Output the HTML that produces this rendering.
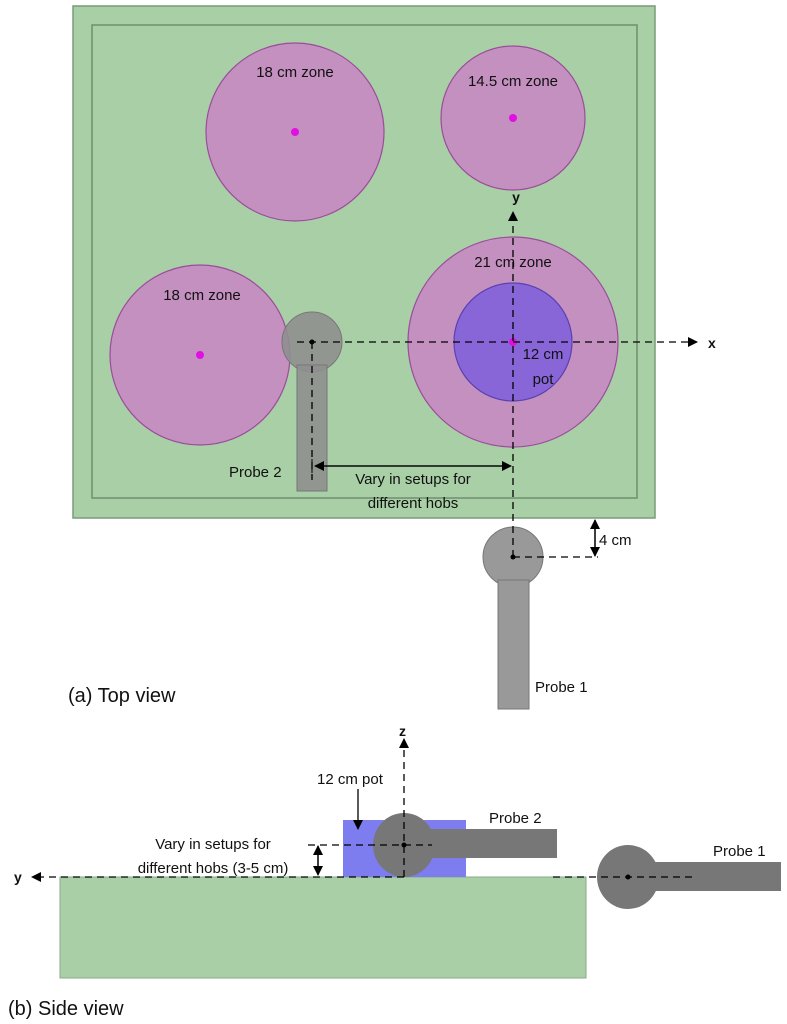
<!DOCTYPE html>
<html><head><meta charset="utf-8"><style>
html,body{margin:0;padding:0;background:#fff}
svg{display:block}
text{font-family:"Liberation Sans","DejaVu Sans",sans-serif;fill:#111}
</style></head><body>
<svg width="787" height="1024" viewBox="0 0 787 1024" xmlns="http://www.w3.org/2000/svg">
<defs>
<marker id="ah" markerWidth="10" markerHeight="10" refX="9" refY="5" orient="auto" markerUnits="userSpaceOnUse">
<path d="M0,0 L10,5 L0,10 z" fill="#000"/></marker>
</defs>
<!-- TOP VIEW -->
<rect x="73" y="6" width="582" height="512" fill="#a9cfa6" stroke="#7a9a7a" stroke-width="1.5"/>
<rect x="92" y="25" width="545" height="473" fill="none" stroke="#6f8f6f" stroke-width="1.5"/>
<circle cx="295" cy="132" r="89" fill="#c490c0" stroke="#9a4d9a" stroke-width="1.2"/>
<circle cx="513" cy="118" r="72" fill="#c490c0" stroke="#9a4d9a" stroke-width="1.2"/>
<circle cx="200" cy="355" r="90" fill="#c490c0" stroke="#9a4d9a" stroke-width="1.2"/>
<circle cx="513" cy="342" r="105" fill="#c490c0" stroke="#9a4d9a" stroke-width="1.2"/>
<circle cx="513" cy="342" r="59" fill="#8866d8" stroke="#5a40b0" stroke-width="1.2"/>
<circle cx="295" cy="132" r="4" fill="#e010e0"/>
<circle cx="513" cy="118" r="4" fill="#e010e0"/>
<circle cx="200" cy="355" r="4" fill="#e010e0"/>
<circle cx="513" cy="342" r="4" fill="#e010e0"/>
<text x="295" y="77" font-size="15" text-anchor="middle">18 cm zone</text>
<text x="513" y="86" font-size="15" text-anchor="middle">14.5 cm zone</text>
<text x="202" y="300" font-size="15" text-anchor="middle">18 cm zone</text>
<text x="513" y="267" font-size="15" text-anchor="middle">21 cm zone</text>
<text x="543" y="359" font-size="15" text-anchor="middle">12 cm</text>
<text x="543" y="384" font-size="15" text-anchor="middle">pot</text>
<!-- probe 2 -->
<g fill="#8f8f8f" fill-opacity="0.9" stroke="#777" stroke-width="1">
<circle cx="312" cy="342" r="30"/>
<rect x="297" y="365" width="30" height="126"/>
</g>
<!-- probe 1 -->
<g fill="#999" stroke="#777" stroke-width="1">
<circle cx="513" cy="557" r="30"/>
<rect x="498" y="580" width="31" height="129"/>
</g>
<g stroke="#000" stroke-width="1.3" stroke-dasharray="7,5" fill="none">
<line x1="297" y1="342" x2="697" y2="342" marker-end="url(#ah)"/>
<line x1="513" y1="557" x2="513" y2="212" marker-end="url(#ah)"/>
<line x1="312" y1="342" x2="312" y2="480"/>
<line x1="513" y1="557" x2="598" y2="557"/>
</g>
<text x="708" y="348" font-size="14" font-weight="bold">x</text>
<text x="516" y="202" font-size="14" font-weight="bold" text-anchor="middle">y</text>
<circle cx="312" cy="342" r="2.5" fill="#000"/>
<circle cx="513" cy="557" r="2.5" fill="#000"/>
<line x1="318" y1="466" x2="511" y2="466" stroke="#000" stroke-width="1.3" marker-end="url(#ah)"/>
<line x1="508" y1="466" x2="315" y2="466" stroke="#000" stroke-width="1.3" marker-end="url(#ah)"/>
<line x1="312" y1="459" x2="312" y2="473" stroke="#000" stroke-width="1"/>
<text x="229" y="477" font-size="15" text-anchor="start">Probe 2</text>
<text x="413" y="484" font-size="15" text-anchor="middle">Vary in setups for</text>
<text x="413" y="508" font-size="15" text-anchor="middle">different hobs</text>
<line x1="595" y1="522" x2="595" y2="556" stroke="#000" stroke-width="1.3" marker-end="url(#ah)"/>
<line x1="595" y1="550" x2="595" y2="520" stroke="#000" stroke-width="1.3" marker-end="url(#ah)"/>
<text x="599" y="545" font-size="15">4 cm</text>
<text x="535" y="692" font-size="15">Probe 1</text>
<text x="68" y="702" font-size="20">(a) Top view</text>
<!-- SIDE VIEW -->
<rect x="60" y="877" width="526" height="101" fill="#a9cfa6" stroke="#8aa88a"/>
<rect x="343" y="820" width="123" height="57" fill="#7d7df0"/>
<g fill="#777">
<ellipse cx="404" cy="845" rx="31" ry="32"/>
<rect x="425" y="829" width="132" height="29"/>
<ellipse cx="628" cy="877" rx="31" ry="32"/>
<rect x="650" y="862" width="131" height="29"/>
</g>
<g stroke="#000" stroke-width="1.3" stroke-dasharray="7,5" fill="none">
<line x1="404" y1="877" x2="404" y2="739" marker-end="url(#ah)"/>
<line x1="404" y1="877" x2="32" y2="877" marker-end="url(#ah)"/>
<line x1="308" y1="845" x2="432" y2="845"/>
<line x1="553" y1="877" x2="692" y2="877"/>
</g>
<circle cx="404" cy="845" r="2.5" fill="#000"/>
<circle cx="628" cy="877" r="2.5" fill="#000"/>
<text x="399" y="736" font-size="14" font-weight="bold">z</text>
<text x="14" y="882" font-size="14" font-weight="bold">y</text>
<line x1="318" y1="847" x2="318" y2="875" stroke="#000" stroke-width="1.3" marker-end="url(#ah)"/>
<line x1="318" y1="870" x2="318" y2="846" stroke="#000" stroke-width="1.3" marker-end="url(#ah)"/>
<line x1="358" y1="789" x2="358" y2="829" stroke="#000" stroke-width="1.3" marker-end="url(#ah)"/>
<text x="317" y="784" font-size="15">12 cm pot</text>
<text x="213" y="849" font-size="15" text-anchor="middle">Vary in setups for</text>
<text x="213" y="873" font-size="15" text-anchor="middle">different hobs (3-5 cm)</text>
<text x="489" y="823" font-size="15">Probe 2</text>
<text x="713" y="856" font-size="15">Probe 1</text>
<text x="8" y="1015" font-size="20">(b) Side view</text>
</svg>
</body></html>
